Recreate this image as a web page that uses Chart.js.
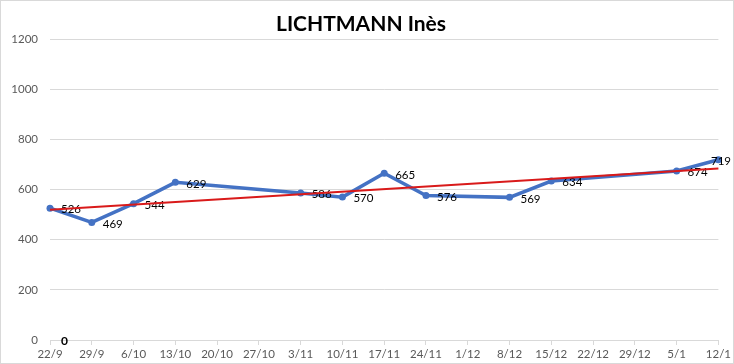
<!DOCTYPE html>
<html>
<head>
    <meta charset="UTF-8">
    <title>LICHTMANN Inès</title>
    <script src="https://cdn.jsdelivr.net/npm/chart.js"></script>
    <style>
        body { margin: 0; background: #fff; }
        #box { width: 734px; height: 364px; border: 1px solid #d9d9d9; box-sizing: border-box; }
        canvas { display: block; }
    </style>
</head>
<body>
    <div id="box"><canvas id="scoreChart" width="732" height="362"></canvas></div>

    <script>
        // weekly dates (x axis)
        var weeks = ['22/9', '29/9', '6/10', '13/10', '20/10', '27/10', '3/11', '10/11', '17/11',
                     '24/11', '1/12', '8/12', '15/12', '22/12', '29/12', '5/1', '12/1'];
        // scores, null = no result that week
        var scores = [526, 469, 544, 629, null, null, 586, 570, 665, 576, null, 569, 634, null, null, 674, 719];
        // trend line, read at both ends
        var trend = [520, null, null, null, null, null, null, null, null, null, null, null, null, null, null, null, 684];
        // stray bold label at the bottom left
        var zeroMark = [0, null, null, null, null, null, null, null, null, null, null, null, null, null, null, null, null];
        var yTicks = [0, 200, 400, 600, 800, 1000, 1200];

        var labelPlugin = {
            id: 'labels',
            afterDatasetDraw: function(chart, args) {
                var ds = chart.data.datasets[args.index];
                if (!ds.showValues) return;
                var ctx = chart.ctx;
                ctx.save();
                ctx.font = (ds.valueBold ? 'bold 12px' : '11.5px') + ' Lato, sans-serif';
                ctx.fillStyle = '#000';
                ctx.textBaseline = 'middle';
                args.meta.data.forEach(function(pt, i) {
                    var v = ds.data[i];
                    if (v === null) return;
                    var txt = String(v);
                    var w = ctx.measureText(txt).width;
                    var x = pt.x + 11;
                    if (x + w > chart.width - 2) x = chart.width - 2 - w;
                    ctx.fillText(txt, x, pt.y + 1.5);
                });
                ctx.restore();
            }
        };

        var ctx = document.getElementById('scoreChart').getContext('2d');
        var scoreChart = new Chart(ctx, {
            type: 'line',
            data: {
                labels: weeks,
                datasets: [{
                    label: 'Tendance',
                    data: trend,
                    borderColor: '#d91a1a',
                    borderWidth: 2,
                    pointRadius: 0,
                    spanGaps: true,
                    order: 0
                }, {
                    label: 'LICHTMANN Inès',
                    data: scores,
                    borderColor: '#4472c4',
                    backgroundColor: '#4472c4',
                    borderWidth: 3.5,
                    pointRadius: 3.5,
                    pointBorderWidth: 0,
                    spanGaps: true,
                    showValues: true,
                    order: 1
                }, {
                    label: 'zero',
                    data: zeroMark,
                    borderWidth: 0,
                    pointRadius: 0,
                    showLine: false,
                    showValues: true,
                    valueBold: true,
                    order: 2
                }]
            },
            options: {
                responsive: false,
                animation: false,
                layout: { padding: { left: 0, right: 12, top: 0, bottom: 0 } },
                plugins: {
                    legend: { display: false },
                    tooltip: { enabled: false },
                    title: {
                        display: true,
                        text: 'LICHTMANN Inès',
                        color: '#000',
                        font: { family: 'Lato, sans-serif', size: 21, weight: 'bold', lineHeight: 1.2 },
                        padding: { top: 11, bottom: 2 }
                    }
                },
                scales: {
                    x: {
                        offset: false,
                        grid: { display: true, drawOnChartArea: false, color: '#d9d9d9', tickLength: 5 },
                        border: { color: '#d9d9d9' },
                        ticks: {
                            color: '#595959',
                            font: { family: "'Liberation Sans Narrow', Lato, sans-serif", size: 11.5 },
                            padding: 2,
                            maxRotation: 0,
                            autoSkip: false
                        },
                        afterFit: function(s) { s.height = 23; }
                    },
                    y: {
                        min: 0,
                        max: 1200,
                        afterBuildTicks: function(s) { s.ticks = yTicks.map(function(v) { return { value: v }; }); },
                        grid: { color: '#d9d9d9', drawTicks: false },
                        border: { display: false },
                        ticks: {
                            color: '#595959',
                            font: { family: "'Liberation Sans Narrow', Lato, sans-serif", size: 11.5 },
                            padding: 12,
                            callback: function(v) { return String(v); }
                        },
                        afterFit: function(s) { s.width = 49; }
                    }
                }
            },
            plugins: [labelPlugin]
        });
    </script>
</body>
</html>
